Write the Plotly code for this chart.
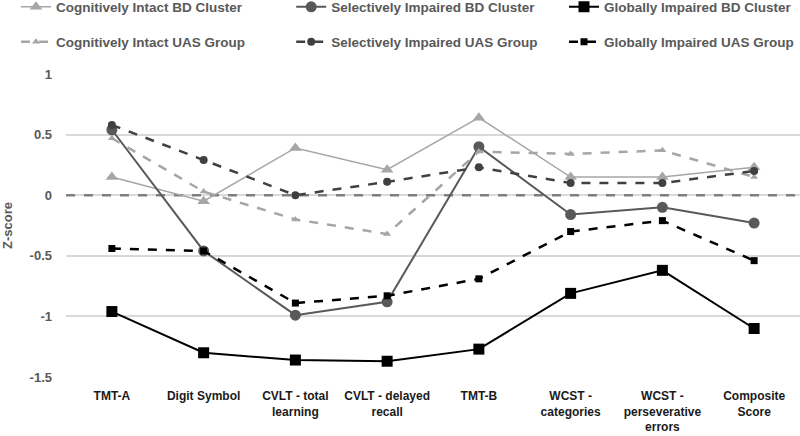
import plotly.graph_objects as go

categories = ["TMT-A", "Digit Symbol", "CVLT - total<br>learning", "CVLT - delayed<br>recall",
              "TMT-B", "WCST -<br>categories", "WCST -<br>perseverative<br>errors", "Composite<br>Score"]

ci_bd = [0.15, -0.05, 0.39, 0.21, 0.64, 0.15, 0.15, 0.23]
si_bd = [0.54, -0.46, -0.99, -0.88, 0.40, -0.16, -0.10, -0.23]
gi_bd = [-0.96, -1.30, -1.36, -1.37, -1.27, -0.81, -0.62, -1.10]
ci_uas = [0.47, 0.03, -0.20, -0.32, 0.36, 0.34, 0.37, 0.15]
si_uas = [0.58, 0.29, 0.00, 0.11, 0.23, 0.10, 0.10, 0.20]
gi_uas = [-0.44, -0.46, -0.89, -0.83, -0.69, -0.30, -0.21, -0.54]

y_ticks = [1, 0.5, 0, -0.5, -1, -1.5]
y_ticklabels = ["1", "0.5", "0", "-0.5", "-1", "-1.5"]

x = list(range(len(categories)))
FONT = "Liberation Sans, Arial, sans-serif"
TXT = "#595959"

fig = go.Figure()

# zero reference line (drawn first so it sits under the series)
fig.add_trace(go.Scatter(x=[-0.5, 7.5], y=[0, 0], mode="lines", showlegend=False,
                         hoverinfo="skip", cliponaxis=False,
                         line=dict(color="#7F7F7F", width=2.5, dash="dash")))

col_x = [0.02, 0.364, 0.705]
row_y = [1 - 7 / 436, 1 - 42 / 436]

def add(name, y, color, width, dash, symbol, msize, idx):
    leg = "legend" if idx == 0 else f"legend{idx + 1}"
    fig.add_trace(go.Scatter(
        x=x, y=y, name=name, mode="lines+markers",
        line=dict(color=color, width=width, dash=dash),
        marker=dict(symbol=symbol, size=msize, color=color),
        legend=leg,
    ))
    fig.update_layout({leg: dict(
        orientation="h", xref="container", yref="container",
        x=col_x[idx % 3], y=row_y[idx // 3], xanchor="left", yanchor="middle",
        font=dict(family=FONT, size=13.5, color=TXT, weight="bold"),
        bgcolor="rgba(0,0,0,0)", itemwidth=30)})

add("Cognitively Intact BD Cluster", ci_bd, "#A6A6A6", 1.5, "solid", "triangle-up", 11, 0)
add("Selectively Impaired BD Cluster", si_bd, "#595959", 2, "solid", "circle", 11, 1)
add("Globally Impaired BD Cluster", gi_bd, "#000000", 2, "solid", "square", 11, 2)
add("Cognitively Intact UAS Group", ci_uas, "#A6A6A6", 2.5, "dash", "triangle-up", 7, 3)
add("Selectively Impaired UAS Group", si_uas, "#404040", 2.5, "dash", "circle", 8, 4)
add("Globally Impaired UAS Group", gi_uas, "#000000", 2.5, "dash", "square", 7, 5)

fig.update_layout(
    width=800, height=436,
    margin=dict(l=66, r=0, t=74, b=59, autoexpand=False),
    plot_bgcolor="white", paper_bgcolor="white",
    font=dict(family=FONT, size=12, color=TXT, weight="bold"),
    xaxis=dict(range=[-0.5, 7.5], tickmode="array", tickvals=x, ticktext=categories,
               showgrid=False, zeroline=False, showline=False, ticks="", automargin=False,
               ticklabelstandoff=10,
               tickfont=dict(family=FONT, size=12, color="#1a1a1a", weight="bold")),
    yaxis=dict(range=[-1.5, 1], tickmode="array", tickvals=y_ticks, ticktext=y_ticklabels,
               showgrid=True, gridcolor="#D9D9D9", gridwidth=2, zeroline=False, automargin=False,
               showline=False, ticks="", ticklabelstandoff=13,
               tickfont=dict(family=FONT, size=13, color=TXT, weight="bold"),
               title=dict(text="Z-score", font=dict(family=FONT, size=13, color=TXT, weight="bold"),
                          standoff=16)),
)

fig.write_html("out.html", config={"displayModeBar": False},
               post_script="document.body.style.margin='0px';")
